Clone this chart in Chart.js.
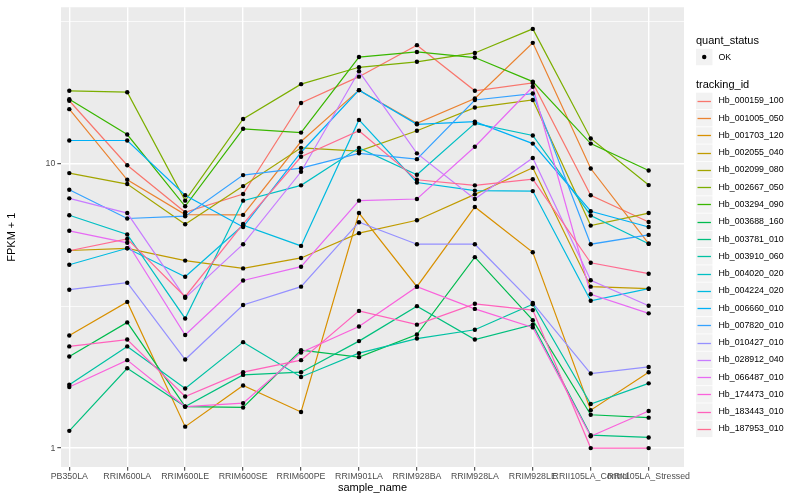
<!DOCTYPE html>
<html><head><meta charset="utf-8">
<script src="https://cdn.jsdelivr.net/npm/chart.js@4.4.0/dist/chart.umd.min.js"></script>
<style>
html,body{margin:0;padding:0;background:#fff;}
#wrap{position:relative;width:800px;height:500px;font-family:"Liberation Sans",Arial,sans-serif;overflow:hidden;}
#c,#k{position:absolute;left:0;top:0;}
.lg{position:absolute;white-space:nowrap;line-height:1;}
</style></head><body>
<div id="wrap"><canvas id="c" width="800" height="500"></canvas><canvas id="k" width="800" height="500"></canvas><div id="legend"></div></div>
<script>
const categories = ["PB350LA","RRIM600LA","RRIM600LE","RRIM600SE","RRIM600PE","RRIM901LA","RRIM928BA","RRIM928LA","RRIM928LE","RRII105LA_Control","RRII105LA_Stressed"];
const trackingIds = ["Hb_000159_100","Hb_001005_050","Hb_001703_120","Hb_002055_040","Hb_002099_080","Hb_002667_050","Hb_003294_090","Hb_003688_160","Hb_003781_010","Hb_003910_060","Hb_004020_020","Hb_004224_020","Hb_006660_010","Hb_007820_010","Hb_010427_010","Hb_028912_040","Hb_066487_010","Hb_174473_010","Hb_183443_010","Hb_187953_010"];
const seriesColors = ["#F8766D","#EA8331","#D89000","#C09B00","#A3A500","#7CAE00","#39B600","#00BB4E","#00BF7D","#00C1A3","#00BFC4","#00BAE0","#00B0F6","#35A2FF","#9590FF","#C77CFF","#E76BF3","#FA62DB","#FF62BC","#FF6C91"];
const yTickValues = [1, 10];
const yMinorValues = [3.1623, 31.623];
const quantStatus = ["OK"];

const hb_000159_100 = [16.7, 9.9, 6.76, 7.84, 16.4, 20.3, 26.2, 18.1, 19.3, 7.76, 6.25];
const hb_001005_050 = [15.6, 8.8, 6.64, 6.62, 12.0, 18.2, 13.9, 17.0, 26.7, 9.64, 5.24];
const hb_001703_120 = [2.49, 3.27, 1.19, 1.66, 1.34, 6.72, 3.70, 7.06, 4.89, 1.36, 1.85];
const hb_002055_040 = [4.96, 5.05, 4.57, 4.29, 4.67, 5.71, 6.34, 7.82, 9.70, 3.70, 3.64];
const hb_002099_080 = [9.29, 8.50, 6.14, 8.36, 11.4, 11.1, 13.1, 15.8, 16.8, 6.07, 6.72];
const hb_002667_050 = [18.1, 17.9, 7.43, 14.4, 19.1, 21.9, 22.9, 24.6, 29.9, 12.3, 8.43];
const hb_003294_090 = [16.9, 12.7, 7.10, 13.3, 12.9, 23.8, 24.8, 23.7, 19.5, 11.8, 9.49];
const hb_003688_160 = [2.10, 2.77, 1.40, 1.39, 2.21, 2.09, 2.51, 4.70, 2.82, 1.31, 1.28];
const hb_003781_010 = [1.15, 1.91, 1.40, 1.81, 1.85, 2.38, 3.16, 2.41, 2.72, 1.11, 1.09];
const hb_003910_060 = [1.67, 2.28, 1.62, 2.36, 1.78, 2.16, 2.43, 2.61, 3.21, 1.43, 1.69];
const hb_004020_020 = [6.60, 5.65, 2.86, 7.43, 8.41, 11.4, 9.17, 13.9, 12.6, 6.59, 5.24];
const hb_004224_020 = [4.42, 5.05, 4.01, 6.09, 5.15, 14.3, 8.61, 8.06, 8.03, 3.30, 3.64];
const hb_006660_010 = [12.1, 12.1, 7.76, 6.00, 11.0, 18.2, 13.8, 14.1, 11.8, 6.82, 6.00];
const hb_007820_010 = [8.12, 6.43, 6.55, 9.14, 9.67, 10.9, 10.4, 16.8, 17.7, 5.22, 5.63];
const hb_010427_010 = [3.61, 3.82, 2.05, 3.19, 3.70, 6.24, 5.22, 5.22, 3.24, 1.83, 1.93];
const hb_028912_040 = [7.57, 6.72, 3.38, 5.22, 9.39, 21.2, 10.9, 7.53, 10.5, 3.90, 3.17];
const hb_066487_010 = [5.82, 5.28, 2.50, 3.89, 4.35, 7.43, 7.53, 11.5, 18.7, 3.48, 2.98];
const hb_174473_010 = [1.64, 2.04, 1.40, 1.44, 2.17, 2.68, 3.70, 3.09, 2.66, 1.10, 1.35];
const hb_183443_010 = [2.28, 2.41, 1.52, 1.85, 2.04, 3.04, 2.72, 3.22, 3.06, 1.00, 1.00];
const hb_187953_010 = [4.95, 5.45, 3.41, 6.15, 10.6, 13.1, 8.80, 8.41, 8.84, 4.49, 4.11];

const seriesValues = [hb_000159_100, hb_001005_050, hb_001703_120, hb_002055_040, hb_002099_080, hb_002667_050, hb_003294_090, hb_003688_160, hb_003781_010, hb_003910_060, hb_004020_020, hb_004224_020, hb_006660_010, hb_007820_010, hb_010427_010, hb_028912_040, hb_066487_010, hb_174473_010, hb_183443_010, hb_187953_010];

const FONT = '"Liberation Sans", Arial, sans-serif';
Chart.defaults.font.family = FONT;

const lineSets = seriesValues.map((vals, i) => ({
  label: trackingIds[i],
  data: vals.map((v, j) => ({x: j, y: v})),
  borderColor: seriesColors[i],
  backgroundColor: seriesColors[i],
  borderWidth: 1.2,
  pointRadius: 0,
  fill: false,
  tension: 0,
  order: 1000 - i
}));
const pointSets = seriesValues.map((vals, i) => ({
  label: trackingIds[i] + ' points',
  data: vals.map((v, j) => ({x: j, y: v})),
  showLine: false,
  pointRadius: 2.2,
  pointBackgroundColor: '#000',
  pointBorderWidth: 0,
  order: 100 - i
}));

const panelBg = {
  id: 'panelBg',
  beforeDraw(chart) {
    const {ctx, chartArea: a} = chart;
    ctx.save();
    ctx.fillStyle = '#EBEBEB';
    ctx.fillRect(a.left, a.top, a.right - a.left, a.bottom - a.top);
    ctx.restore();
  }
};

const isMajorY = v => yTickValues.some(t => Math.abs(t - v) < 1e-6);

new Chart(document.getElementById('c'), {
  type: 'line',
  data: {datasets: [...lineSets, ...pointSets]},
  plugins: [panelBg],
  options: {
    responsive: false,
    animation: false,
    devicePixelRatio: 1,
    layout: {padding: {left: 0, right: 116, top: 5, bottom: 0}},
    plugins: {legend: {display: false}, tooltip: {enabled: false}},
    scales: {
      x: {
        type: 'linear', bounds: 'data',
        min: -0.1433, max: 10.610,
        afterBuildTicks: s => { s.ticks = categories.map((c, i) => ({value: i})); },
        afterFit: s => { s.height = 33; },
        ticks: {
          callback: v => categories[v] !== undefined ? categories[v] : '',
          autoSkip: false, maxRotation: 0, minRotation: 0,
          color: '#4D4D4D', font: {size: 8.8, family: FONT}, padding: 1
        },
        grid: {color: '#FFFFFF', lineWidth: 1.4, tickColor: '#333333', tickLength: 3.7, tickWidth: 1},
        border: {display: false},
        title: {display: true, text: 'sample_name', color: '#000', font: {size: 11, family: FONT}, padding: {top: 0, bottom: 5}}
      },
      y: {
        type: 'logarithmic', bounds: 'data',
        min: 0.8579, max: 35.62,
        afterBuildTicks: s => { s.ticks = [...yTickValues, ...yMinorValues].sort((a, b) => a - b).map(v => ({value: v})); },
        afterFit: s => { s.width = 61; },
        ticks: {
          callback: v => isMajorY(v) ? String(v) : '',
          autoSkip: false, color: '#4D4D4D', font: {size: 8.8, family: FONT}, padding: 2
        },
        grid: {
          color: '#FFFFFF',
          lineWidth: ctx => (ctx.tick && isMajorY(ctx.tick.value)) ? 1.4 : 0.7,
          tickColor: ctx => (ctx.tick && isMajorY(ctx.tick.value)) ? '#333333' : 'rgba(0,0,0,0)',
          tickLength: 3.7, tickWidth: 1
        },
        border: {display: false},
        title: {display: true, text: 'FPKM + 1', color: '#000', font: {size: 11, family: FONT}, padding: {top: 5, bottom: 0}}
      }
    }
  }
});

// legend: key graphics on an overlay canvas, text as HTML
const lg = document.getElementById('legend');
const kc = document.getElementById('k').getContext('2d');
function txt(left, top, size, text) {
  const d = document.createElement('div');
  d.className = 'lg';
  Object.assign(d.style, {left: left + 'px', top: top + 'px', fontSize: size + 'px', color: '#000'});
  d.textContent = text;
  lg.appendChild(d);
}
const KEY = 17.26, KX = 696, TX = 718.5;
txt(KX, 34.5, 11, 'quant_status');
kc.fillStyle = '#F2F2F2';
kc.fillRect(KX, 48.8, KEY - 0.8, KEY - 0.8);
kc.fillStyle = '#000';
kc.beginPath(); kc.arc(KX + (KEY - 0.8) / 2, 48.8 + (KEY - 0.8) / 2, 2.2, 0, Math.PI * 2); kc.fill();
txt(TX, 57.3 - 4.6, 8.8, quantStatus[0]);
txt(KX, 78.5, 11, 'tracking_id');
trackingIds.forEach((id, i) => {
  const top = 92.7 + i * KEY;
  kc.fillStyle = '#F2F2F2';
  kc.fillRect(KX, top, KEY - 0.8, KEY - 0.8);
  kc.strokeStyle = seriesColors[i];
  kc.lineWidth = 1.3;
  kc.beginPath();
  const yy = Math.round(top + (KEY - 0.8) / 2) + 0.5;
  kc.moveTo(KX + 1.5, yy); kc.lineTo(KX + KEY - 2.3, yy); kc.stroke();
  txt(TX, top + KEY / 2 - 4.9, 8.8, id);
});
</script>
</body></html>
